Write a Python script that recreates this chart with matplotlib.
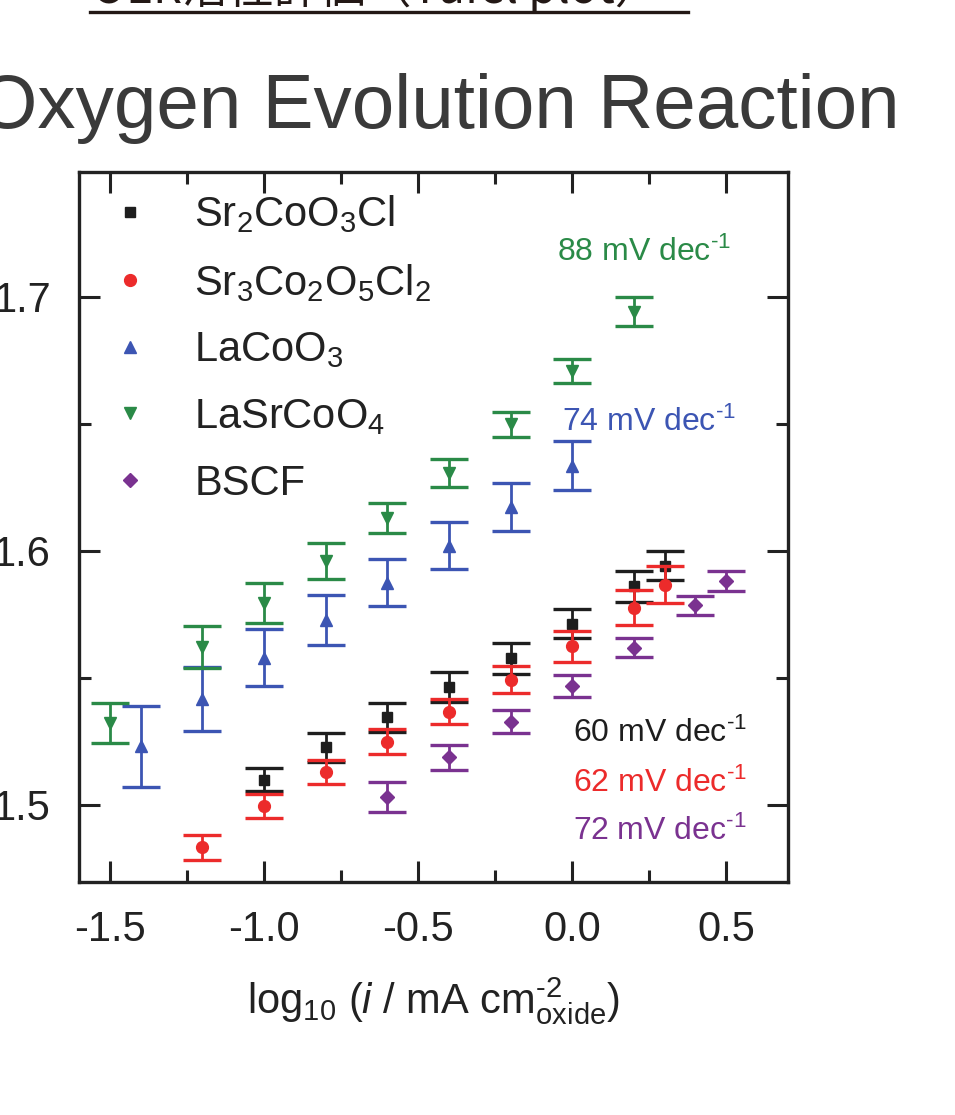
import matplotlib
matplotlib.use("Agg")
import matplotlib.pyplot as plt
from matplotlib.lines import Line2D
from matplotlib.ticker import MultipleLocator, FormatStrFormatter

plt.rcParams["font.family"] = ["Liberation Sans", "DejaVu Sans"]
plt.rcParams["mathtext.fontset"] = "custom"
plt.rcParams["mathtext.rm"] = "Liberation Sans"
plt.rcParams["mathtext.it"] = "Liberation Sans:italic"
plt.rcParams["mathtext.bf"] = "Liberation Sans:bold"
plt.rcParams["axes.unicode_minus"] = False

# Tafel data: log10 current density vs potential (V), with error bars
x_sr2coo3cl = [-1.0, -0.8, -0.6, -0.4, -0.2, 0.0, 0.2, 0.3]
y_sr2coo3cl = [1.510, 1.5226, 1.5344, 1.5464, 1.5577, 1.5713, 1.586, 1.594]
e_sr2coo3cl = [0.0045, 0.0056, 0.0058, 0.006, 0.006, 0.0057, 0.006, 0.0057]

x_sr3co2o5cl2 = [-1.2, -1.0, -0.8, -0.6, -0.4, -0.2, 0.0, 0.2, 0.3]
y_sr3co2o5cl2 = [1.4833, 1.4996, 1.5129, 1.5249, 1.5367, 1.5493, 1.5625, 1.5775, 1.5866]
e_sr3co2o5cl2 = [0.005, 0.0046, 0.0048, 0.005, 0.0049, 0.0054, 0.0061, 0.0069, 0.0072]

x_lacoo3 = [-1.4, -1.2, -1.0, -0.8, -0.6, -0.4, -0.2, 0.0]
y_lacoo3 = [1.523, 1.5416, 1.5579, 1.5728, 1.5874, 1.602, 1.6172, 1.6335]
e_lacoo3 = [0.016, 0.0127, 0.0113, 0.0098, 0.0093, 0.0092, 0.0096, 0.0095]

x_lasrcoo4 = [-1.5, -1.2, -1.0, -0.8, -0.6, -0.4, -0.2, 0.0, 0.2]
y_lasrcoo4 = [1.5322, 1.5621, 1.5794, 1.596, 1.6128, 1.6306, 1.6497, 1.6708, 1.694]
e_lasrcoo4 = [0.008, 0.0083, 0.008, 0.0072, 0.006, 0.0055, 0.0049, 0.0047, 0.0057]

x_bscf = [-0.6, -0.4, -0.2, 0.0, 0.2, 0.4, 0.5]
y_bscf = [1.5031, 1.5187, 1.5327, 1.5469, 1.5618, 1.5785, 1.5881]
e_bscf = [0.006, 0.0049, 0.0045, 0.0043, 0.0038, 0.0037, 0.0038]

labels = ["Sr$_2$CoO$_3$Cl", "Sr$_3$Co$_2$O$_5$Cl$_2$", "LaCoO$_3$", "LaSrCoO$_4$", "BSCF"]
HY = "\u2010"  # typographic hyphen for superscripts
slopes = [f"60 mV dec$^{{{HY}1}}$", f"62 mV dec$^{{{HY}1}}$", f"74 mV dec$^{{{HY}1}}$",
          f"88 mV dec$^{{{HY}1}}$", f"72 mV dec$^{{{HY}1}}$"]

colors = ["#1e1e1e", "#ec2b2b", "#3c55b3", "#2a8a47", "#7a3290"]
markers = ["s", "o", "^", "v", "D"]
msizes = [7.5, 8.5, 9, 9, 7.5]

series = [
    (x_sr2coo3cl, y_sr2coo3cl, e_sr2coo3cl),
    (x_sr3co2o5cl2, y_sr3co2o5cl2, e_sr3co2o5cl2),
    (x_lacoo3, y_lacoo3, e_lacoo3),
    (x_lasrcoo4, y_lasrcoo4, e_lasrcoo4),
    (x_bscf, y_bscf, e_bscf),
]
zorders = [4, 5, 2, 3, 6]

fig = plt.figure(figsize=(9.55, 11.15), dpi=100)
ax = fig.add_axes([0.0827, 0.209, 0.7424, 0.6368])

handles = []
for (xs, ys, es), lab, c, m, ms, z in zip(series, labels, colors, markers, msizes, zorders):
    ax.errorbar(xs, ys, yerr=es, fmt="none", ecolor=c, elinewidth=2.0,
                capsize=14, capthick=2.4, zorder=z)
    h, = ax.plot(xs, ys, linestyle="none", marker=m, markersize=ms,
                 color=c, markeredgecolor=c, label=lab, zorder=z + 0.5)
    handles.append(h)

ax.set_xlim(-1.6, 0.7)
ax.set_ylim(1.4697, 1.749)
ax.xaxis.set_major_locator(MultipleLocator(0.5))
ax.xaxis.set_minor_locator(MultipleLocator(0.25))
ax.yaxis.set_major_locator(MultipleLocator(0.1))
ax.yaxis.set_minor_locator(MultipleLocator(0.05))
ax.xaxis.set_major_formatter(FormatStrFormatter("%.1f"))
ax.yaxis.set_major_formatter(FormatStrFormatter("%.1f"))

ax.tick_params(which="both", direction="in", top=True, right=True,
               width=2.2, color="#222222", labelcolor="#222222")
ax.tick_params(which="major", length=15, labelsize=30, pad=20)
ax.tick_params(which="minor", length=8.5)
for sp in ax.spines.values():
    sp.set_linewidth(2.4)
    sp.set_color("#222222")

ax.set_xlabel(f"log$_{{10}}$ ($i$ / mA cm$^{{{HY}2}}_{{\\mathrm{{oxide}}}}$)",
              fontsize=30, color="#222222", labelpad=18)

leg = ax.legend(handles=handles, loc="upper left", bbox_to_anchor=(0.042, 0.970),
                frameon=False, fontsize=30, handlelength=1.0, handletextpad=1.05,
                labelspacing=0.64, borderpad=0, borderaxespad=0)
for t in leg.get_texts():
    t.set_color("#222222")

# slope annotations
ax.text(-0.049, 1.7138, slopes[3], color=colors[3], fontsize=23, va="baseline")
ax.text(-0.032, 1.6469, slopes[2], color=colors[2], fontsize=23, va="baseline")
ax.text(0.003, 1.5248, slopes[0], color=colors[0], fontsize=23, va="baseline")
ax.text(0.003, 1.5051, slopes[1], color=colors[1], fontsize=23, va="baseline")
ax.text(0.003, 1.4862, slopes[4], color=colors[4], fontsize=23, va="baseline")

# heading
W, H = 955, 1115
fig.text(900 / W, 1 - 128 / H, "Oxygen Evolution Reaction", ha="right",
         va="baseline", fontsize=55, color="#3a3a3a")
fig.text(92 / W, 1 - 3 / H, "OER活性評価（Tafel plot）", ha="left", va="baseline",
         fontsize=33, color="#231815", fontstyle="italic",
         family=["Noto Sans CJK JP", "Liberation Sans"])
fig.add_artist(Line2D([90 / W, 688 / W], [1 - 12 / H, 1 - 12 / H],
                      color="#231815", linewidth=2.4, transform=fig.transFigure))

fig.savefig("out.png", dpi=100)
